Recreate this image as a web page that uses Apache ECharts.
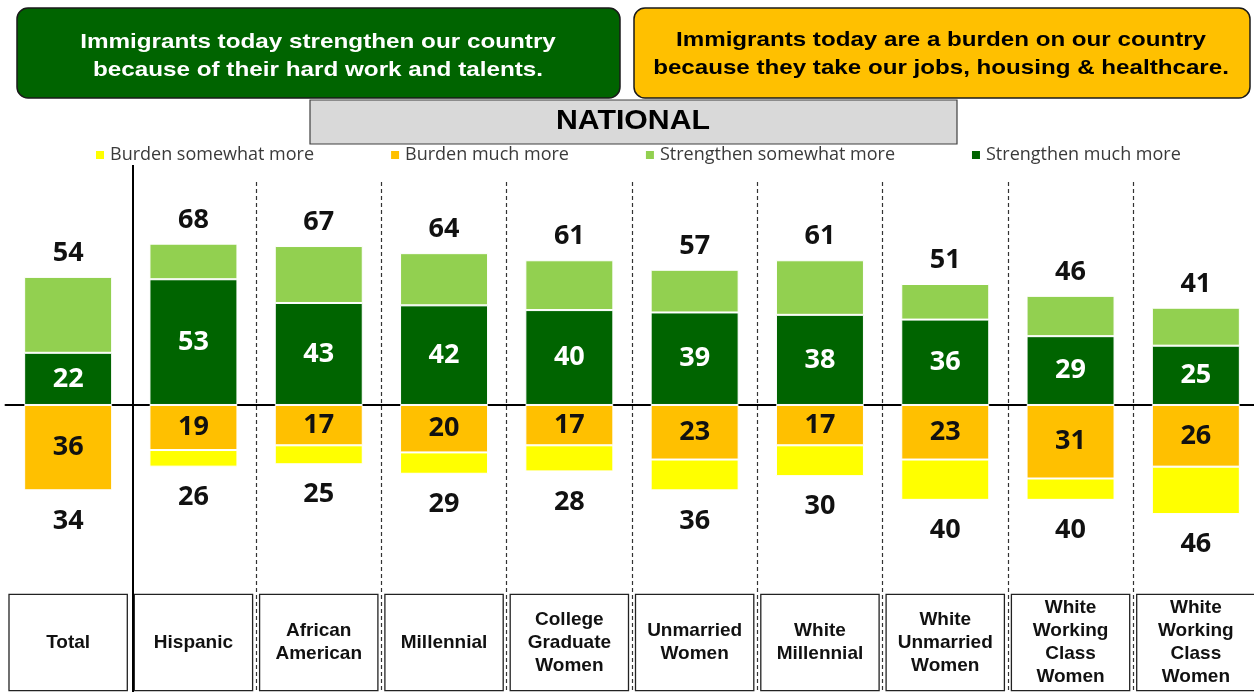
<!DOCTYPE html>
<html><head><meta charset="utf-8">
<script src="https://cdn.jsdelivr.net/npm/echarts@6/dist/echarts.min.js"></script>
<style>html,body{margin:0;padding:0;background:#fff}#c{width:1254px;height:692px}</style>
</head><body><div id="c"></div>
<script>
const categories = ['Total','Hispanic','African\nAmerican','Millennial','College\nGraduate\nWomen','Unmarried\nWomen','White\nMillennial','White\nUnmarried\nWomen','White\nWorking\nClass\nWomen','White\nWorking\nClass\nWomen'];
const strengthenMuch = [22,53,43,42,40,39,38,36,29,25];
const strengthenSomewhat = [32,15,24,22,21,18,23,15,17,16];
const strengthenTotal = [54,68,67,64,61,57,61,51,46,41];
const burdenMuch = [36,19,17,20,17,23,17,23,31,26];
const burdenSomewhat = [0,7,8,9,11,13,13,17,9,20];
const burdenTotal = [34,26,25,29,28,36,30,40,40,46];
const legendNames = ['Burden somewhat more','Burden much more','Strengthen somewhat more','Strengthen much more'];
const titleLeft = 'Immigrants today strengthen our country\nbecause of their hard work and talents.';
const titleRight = 'Immigrants today are a burden on our country\nbecause they take our jobs, housing & healthcare.';
const subTitle = 'NATIONAL';

const C = {dg:'#006400', lg:'#92D050', or:'#FFC000', ye:'#FFFF00'};
const numFont = {fontFamily:'Open Sans', fontWeight:'bold', fontSize:27};
const chart = echarts.init(document.getElementById('c'));

const catData = categories.map(c => {
  const n = c.split('\n').length;
  const p = (95 - 23*n) / 2;
  return {value:c, textStyle:{height:23*n, padding:[p,1,p,1]}};
});

function barSeries(name, data, color, label){
  return {name, type:'bar', stack:'s', data, barWidth:88,
    itemStyle:{color, borderColor:'#fff', borderWidth:1},
    label, emphasis:{disabled:true}, animation:false};
}

const option = {
  animation:false,
  grid:{left:5.5, width:1253, top:182, height:510, containLabel:false, outerBoundsMode:'none'},
  legend:{data:legendNames, left:89, top:141, itemWidth:10, itemHeight:10, itemGap:75, icon:'rect',
    textStyle:{fontFamily:'Open Sans', fontSize:18, color:'#3a3a3a'}, selectedMode:false},
  xAxis:[
    {type:'category', data:catData, position:'bottom',
     axisLine:{show:false, onZero:false}, axisTick:{show:false},
     splitLine:{show:true, interval:(i)=> i>=2, lineStyle:{color:'#333', width:1.2, type:[4,3]}},
     axisLabel:{inside:true, margin:2, interval:0, width:115, align:'center',
       backgroundColor:'#fff', borderColor:'#222', borderWidth:1.3,
       fontFamily:'Liberation Sans', fontWeight:'bold', fontSize:19, lineHeight:23, color:'#111'}},
    {type:'category', data:categories, position:'top',
     axisLine:{show:true, onZero:true, lineStyle:{color:'#000', width:2}},
     axisTick:{show:false}, axisLabel:{show:false}, splitLine:{show:false}}
  ],
  yAxis:{type:'value', min:-121, max:94, show:false, splitLine:{show:false}},
  series:[
    barSeries('Burden much more', burdenMuch.map(v=>-v), C.or,
      {show:true, position:'inside', formatter:p=>Math.abs(p.value), color:'#111', ...numFont}),
    barSeries('Burden somewhat more', burdenSomewhat.map(v=>-v), C.ye,
      {show:true, position:'bottom', distance:17, formatter:p=>burdenTotal[p.dataIndex], color:'#111', ...numFont}),
    barSeries('Strengthen much more', strengthenMuch, C.dg,
      {show:true, position:'inside', formatter:p=>p.value, color:'#fff', ...numFont}),
    barSeries('Strengthen somewhat more', strengthenSomewhat, C.lg,
      {show:true, position:'top', distance:10, formatter:p=>strengthenTotal[p.dataIndex], color:'#111', ...numFont})
  ],
  graphic:[
    {id:'gbox', type:'rect', shape:{x:17, y:8, width:603, height:90, r:11}, style:{fill:'#006400', stroke:'#1a1a1a', lineWidth:1.5}, z:10},
    {id:'gtxt', type:'text', x:318, y:56, scaleX:1.155, z:11,
      style:{text:titleLeft, fill:'#fff', font:'bold 21px "Liberation Sans", Arial', lineHeight:28, align:'center', verticalAlign:'middle'}},
    {id:'obox', type:'rect', shape:{x:634, y:8, width:616, height:90, r:11}, style:{fill:'#FFC000', stroke:'#1a1a1a', lineWidth:1.5}, z:10},
    {id:'otxt', type:'text', x:941, y:54, scaleX:1.15, z:11,
      style:{text:titleRight, fill:'#000', font:'bold 21px "Liberation Sans", Arial', lineHeight:28, align:'center', verticalAlign:'middle'}},
    {id:'nbox', type:'rect', shape:{x:310, y:100, width:647, height:44}, style:{fill:'#D9D9D9', stroke:'#404040', lineWidth:1.2}, z:10},
    {id:'ntxt', type:'text', x:633, y:121, scaleX:1.08, z:11,
      style:{text:subTitle, fill:'#000', font:'bold 28px "Liberation Sans", Arial', align:'center', verticalAlign:'middle'}}
  ]
};
chart.setOption(option);
const xa = chart.convertToPixel({xAxisIndex:0}, 0);
const xb = chart.convertToPixel({xAxisIndex:0}, 1);
const xd = Math.round((xa + xb) / 2) + 2;
chart.setOption({graphic:[{id:'div', type:'line', shape:{x1:xd, y1:165, x2:xd, y2:692}, style:{stroke:'#000', lineWidth:2}, z:5}]});
</script></body></html>
